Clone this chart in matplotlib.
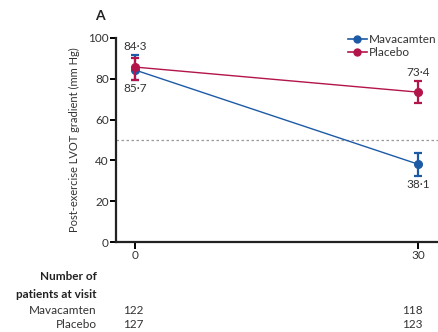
import matplotlib
matplotlib.use("Agg")
import matplotlib.pyplot as plt
from matplotlib.lines import Line2D

plt.rcParams["font.family"] = ["Lato", "DejaVu Sans"]

# Données
visits = [0, 30]
mava_mean = [84.3, 38.1]
mava_low = [79.2, 32.4]
mava_high = [91.6, 43.6]
plac_mean = [85.7, 73.4]
plac_low = [79.3, 68.0]
plac_high = [90.2, 79.0]
mava_labels = ["84·3", "38·1"]
plac_labels = ["85·7", "73·4"]
mava_n = ["122", "118"]
plac_n = ["127", "123"]

blue = "#1d5aa6"
red = "#b3144a"
text_col = "#333333"

fig = plt.figure(figsize=(4.39, 3.32), dpi=100)
ax = fig.add_axes([0.264, 0.271, 0.734, 0.615])

# Placebo
ax.plot(visits, plac_mean, color=red, lw=1.0, zorder=2)
ax.errorbar(visits, plac_mean,
            yerr=[[m - l for m, l in zip(plac_mean, plac_low)],
                  [h - m for m, h in zip(plac_mean, plac_high)]],
            fmt="o", color=red, ms=5.5, capsize=3.2, elinewidth=1.6, capthick=1.6, zorder=3)
# Mavacamten
ax.plot(visits, mava_mean, color=blue, lw=1.0, zorder=2)
ax.errorbar(visits, mava_mean,
            yerr=[[m - l for m, l in zip(mava_mean, mava_low)],
                  [h - m for m, h in zip(mava_mean, mava_high)]],
            fmt="o", color=blue, ms=5.5, capsize=3.2, elinewidth=1.6, capthick=1.6, zorder=2.5)

ax.axhline(50, color="#999999", lw=0.9, ls=(0, (2, 2)), zorder=1)

# Étiquettes des valeurs
ax.text(visits[0], mava_high[0] + 1.5, mava_labels[0], ha="center", va="bottom", fontsize=8.5, color=text_col)
ax.text(visits[0], plac_low[0] - 1.5, plac_labels[0], ha="center", va="top", fontsize=8.5, color=text_col)
ax.text(visits[1], plac_high[1] + 1.5, plac_labels[1], ha="center", va="bottom", fontsize=8.5, color=text_col)
ax.text(visits[1], mava_low[1] - 1.5, mava_labels[1], ha="center", va="top", fontsize=8.5, color=text_col)

ax.set_xlim(-2, 32.1)
ax.set_ylim(0, 100)
ax.set_yticks([0, 20, 40, 60, 80, 100])
ax.set_xticks(visits)
ax.spines["top"].set_visible(False)
ax.spines["right"].set_visible(False)
for s in ["left", "bottom"]:
    ax.spines[s].set_linewidth(1.6)
    ax.spines[s].set_color("#222222")
ax.tick_params(axis="y", length=4, width=1.4, labelsize=8.5, labelcolor=text_col, pad=1)
ax.tick_params(axis="x", length=5, width=1.4, labelsize=8.5, labelcolor=text_col, pad=1)
ax.set_ylabel("Post-exercise LVOT gradient (mm Hg)", fontsize=8, color=text_col, labelpad=6)

handles = [Line2D([], [], color=blue, marker="o", ms=5, lw=1.2),
           Line2D([], [], color=red, marker="o", ms=5, lw=1.2)]
ax.legend(handles, ["Mavacamten", "Placebo"], loc="upper right", bbox_to_anchor=(1.01, 1.04),
          frameon=False, fontsize=8.5, handlelength=1.6, handletextpad=0.2,
          labelspacing=0.15, borderaxespad=0.0, labelcolor=text_col)

fig.text(100 / 439, 1 - 16 / 332, "A", fontsize=10, fontweight="bold", ha="center", va="center", color="#222222")

# Tableau des effectifs
fig.text(97 / 439, 1 - 277 / 332, "Number of", fontsize=8.5, fontweight="bold", ha="right", va="center", color="#222222")
fig.text(97 / 439, 1 - 295 / 332, "patients at visit", fontsize=8.5, fontweight="bold", ha="right", va="center", color="#222222")
fig.text(97 / 439, 1 - 311 / 332, "Mavacamten", fontsize=8.5, ha="right", va="center", color=text_col)
fig.text(97 / 439, 1 - 325 / 332, "Placebo", fontsize=8.5, ha="right", va="center", color=text_col)
for xpos, n1, n2 in zip([133, 412], mava_n, plac_n):
    fig.text(xpos / 439, 1 - 311 / 332, n1, fontsize=8.5, ha="center", va="center", color=text_col)
    fig.text(xpos / 439, 1 - 325 / 332, n2, fontsize=8.5, ha="center", va="center", color=text_col)

fig.savefig("out.png", dpi=100)
